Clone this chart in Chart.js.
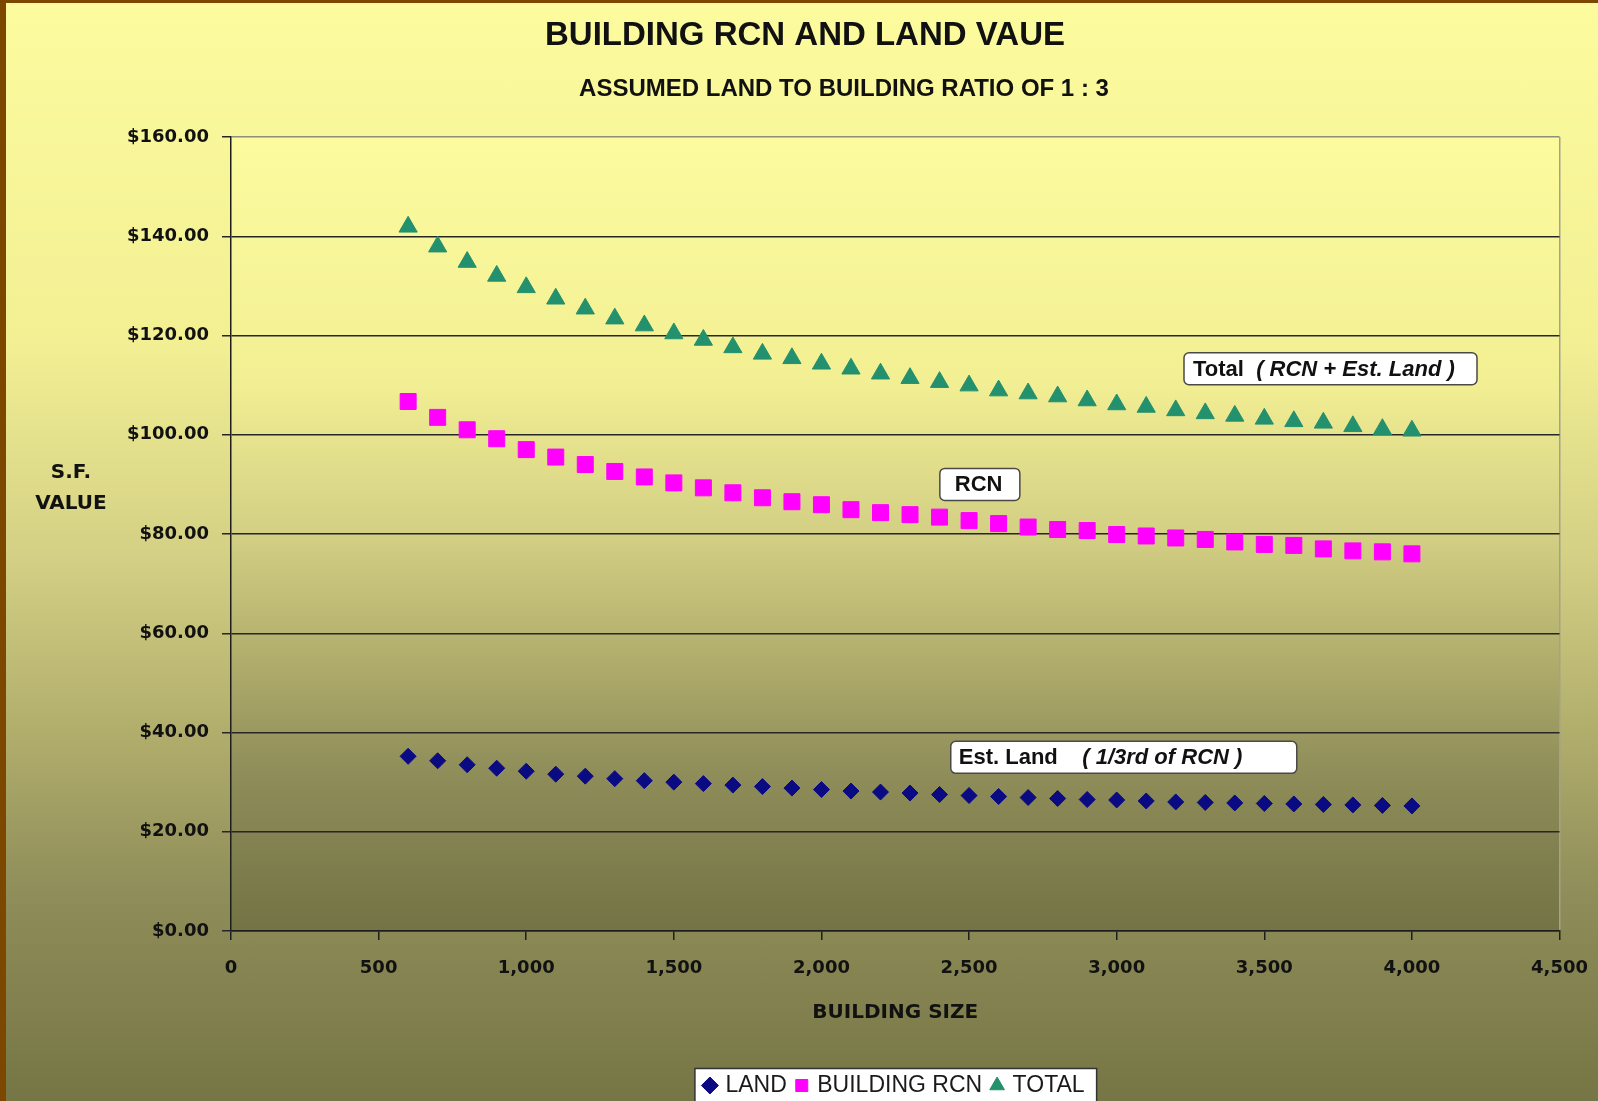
<!DOCTYPE html>
<html>
<head>
<meta charset="utf-8">
<title>Building RCN and Land Value</title>
<script src="https://cdn.jsdelivr.net/npm/chart.js@4.4.0/dist/chart.umd.min.js"></script>
<style>
	html, body { margin: 0; padding: 0; overflow: hidden; background: #7c4800; }
	#wrap {
		position: absolute; left: 6px; top: 3px; width: 1592px; height: 1113px;
		background: linear-gradient(to bottom, #fcfb9e 0%, #f3f094 30%, #d3cf84 50%, #b2af6d 65%, #8f8d59 80%, #747444 100%);
	}
	canvas { display: block; }
</style>
</head>
<body>
<div id="wrap"><canvas id="valueChart"></canvas></div>
<script>
// building size (sq ft) and the three per-s.f. values
var sizes = [600, 700, 800, 900, 1000, 1100, 1200, 1300, 1400, 1500, 1600, 1700,
	1800, 1900, 2000, 2100, 2200, 2300, 2400, 2500, 2600, 2700, 2800, 2900,
	3000, 3100, 3200, 3300, 3400, 3500, 3600, 3700, 3800, 3900, 4000];

var land = [35.2, 34.3, 33.5, 32.8, 32.2, 31.6, 31.2, 30.7, 30.3, 30.0, 29.7, 29.4,
	29.1, 28.8, 28.5, 28.2, 28.0, 27.8, 27.5, 27.3, 27.1, 26.9, 26.7, 26.5,
	26.4, 26.2, 26.0, 25.9, 25.8, 25.7, 25.6, 25.5, 25.4, 25.3, 25.2];

var rcn = [106.7, 103.5, 101.0, 99.2, 97.0, 95.5, 94.0, 92.6, 91.5, 90.3, 89.3, 88.3,
	87.3, 86.5, 85.9, 84.9, 84.3, 83.9, 83.4, 82.7, 82.1, 81.4, 80.9, 80.7,
	79.9, 79.6, 79.2, 78.9, 78.4, 77.9, 77.7, 77.0, 76.6, 76.4, 76.0];

var total = [141.9, 137.9, 134.8, 132.0, 129.7, 127.4, 125.4, 123.4, 122.0, 120.4, 119.1, 117.6,
	116.3, 115.4, 114.3, 113.3, 112.3, 111.4, 110.6, 109.9, 108.9, 108.3, 107.7, 106.9,
	106.1, 105.6, 104.9, 104.3, 103.8, 103.2, 102.7, 102.4, 101.7, 101.1, 100.8];

var seriesNames = ['LAND', 'BUILDING RCN', 'TOTAL'];

var chartTitle = 'BUILDING RCN AND LAND VAUE',
	chartSubtitle = 'ASSUMED LAND TO BUILDING RATIO OF 1 : 3',
	xTitle = 'BUILDING SIZE',
	yTitle = ['S.F.', 'VALUE'];

// callout boxes, anchored in data units (left edge x, vertical centre y)
var notes = [
	{ x: 3228, y: 113.3, w: 293, pad: 9, parts: [['Total', false], ['  ( RCN + Est. Land )', true]] },
	{ x: 2401, y: 90.0, w: 80, pad: 15, parts: [['RCN', false]] },
	{ x: 2438, y: 35.0, w: 346, pad: 8, parts: [['Est. Land', false], ['    ( 1/3rd of RCN )', true]] }
];

var fadeStops = [[0, '#fcfb9e'], [0.3, '#f3f094'], [0.5, '#d3cf84'], [0.65, '#b2af6d'], [0.8, '#8f8d59'], [1, '#737345']];

function points(ys) {
	return sizes.map((s, i) => ({ x: s, y: ys[i] }));
}

const backdrop = {
	id: 'backdrop',
	beforeDraw(chart) {
		const ctx = chart.ctx, a = chart.chartArea;
		ctx.save();
		const g = ctx.createLinearGradient(0, a.top, 0, a.bottom);
		fadeStops.forEach(s => g.addColorStop(s[0], s[1]));
		ctx.fillStyle = g;
		ctx.fillRect(a.left, a.top, a.right - a.left, a.bottom - a.top);

		// white frame behind the legend items
		const hb = chart.legend.legendHitBoxes;
		if (hb && hb.length) {
			const l = Math.min(...hb.map(b => b.left)) - 11;
			const r = Math.max(...hb.map(b => b.left + b.width)) + 12;
			const t = hb[0].top + hb[0].height / 2 - 17;
			ctx.fillStyle = '#ffffff';
			ctx.fillRect(l, t, r - l, 60);
			ctx.strokeStyle = '#333333';
			ctx.lineWidth = 1.5;
			ctx.strokeRect(l, t, r - l, 60);
		}
		ctx.restore();
	}
};

const headings = {
	id: 'headings',
	afterDraw(chart) {
		const ctx = chart.ctx;
		ctx.save();
		ctx.fillStyle = '#111111';
		ctx.textAlign = 'center';
		ctx.textBaseline = 'middle';
		ctx.font = 'bold 33px "Liberation Sans", Arial, sans-serif';
		ctx.fillText(chartTitle, 799, 33);
		ctx.font = 'bold 24px "Liberation Sans", Arial, sans-serif';
		ctx.fillText(chartSubtitle, 838, 86);
		ctx.font = 'bold 20px "DejaVu Sans", sans-serif';
		ctx.fillText(yTitle[0], 65, 470);
		ctx.fillText(yTitle[1], 65, 501);
		ctx.restore();
	},
	afterDatasetsDraw(chart) {
		const ctx = chart.ctx, xs = chart.scales.x, ys = chart.scales.y;
		ctx.save();
		notes.forEach(n => {
			const left = xs.getPixelForValue(n.x), mid = ys.getPixelForValue(n.y);
			const h = 32, top = mid - h / 2;
			ctx.beginPath();
			ctx.roundRect(left, top, n.w, h, 5);
			ctx.fillStyle = '#ffffff';
			ctx.fill();
			ctx.strokeStyle = '#4a4a44';
			ctx.lineWidth = 1.5;
			ctx.stroke();
			ctx.fillStyle = '#111111';
			ctx.textAlign = 'left';
			ctx.textBaseline = 'middle';
			let cx = left + n.pad;
			n.parts.forEach(p => {
				ctx.font = (p[1] ? 'italic ' : '') + 'bold 22px "Liberation Sans", Arial, sans-serif';
				ctx.fillText(p[0], cx, mid + 1);
				cx += ctx.measureText(p[0]).width;
			});
		});
		ctx.restore();
	}
};

const ctxValue = document.getElementById('valueChart').getContext('2d');
const valueChart = new Chart(ctxValue, {
	type: 'scatter',
	data: {
		datasets: [
			{
				label: seriesNames[0],
				data: points(land),
				pointStyle: 'rectRot',
				pointRadius: 8,
				backgroundColor: '#0a0a82',
				borderColor: '#0a0a82',
				borderWidth: 1
			},
			{
				label: seriesNames[1],
				data: points(rcn),
				pointStyle: 'rect',
				pointRadius: 11.3,
				backgroundColor: '#ff00ff',
				borderColor: '#ff00ff',
				borderWidth: 1
			},
			{
				label: seriesNames[2],
				data: points(total),
				pointStyle: 'triangle',
				pointRadius: 10.5,
				backgroundColor: '#23906e',
				borderColor: '#23906e',
				borderWidth: 1
			}
		]
	},
	options: {
		responsive: true,
		maintainAspectRatio: false,
		animation: false,
		layout: {
			padding: { top: 134, left: 0, right: 38, bottom: 9 }
		},
		plugins: {
			title: { display: false },
			tooltip: { enabled: false },
			legend: {
				display: true,
				position: 'bottom',
				fullSize: false,
				labels: {
					usePointStyle: true,
					boxWidth: 8,
					boxHeight: 12,
					padding: 11,
					color: '#1a1a1a',
					font: { family: '"Liberation Sans", Arial, sans-serif', size: 23 }
				}
			}
		},
		scales: {
			x: {
				type: 'linear',
				min: 0,
				max: 4500,
				afterFit: s => { s.height = 132; },
				ticks: {
					stepSize: 500,
					padding: 10,
					color: '#111111',
					font: { family: '"DejaVu Sans", sans-serif', size: 18, weight: 'bold', lineHeight: 2 },
					maxRotation: 0,
					callback: v => v.toLocaleString('en-US')
				},
				grid: {
					drawOnChartArea: true,
					color: c => (c.tick && c.tick.value === 4500) ? '#a3a28c' : 'rgba(0,0,0,0)',
					tickColor: '#1e1e1e',
					lineWidth: 1.5,
					tickLength: 9
				},
				border: { color: '#1e1e1e', width: 1.5 },
				title: {
					display: true,
					text: xTitle,
					color: '#111111',
					font: { family: '"DejaVu Sans", sans-serif', size: 20, weight: 'bold' },
					padding: { top: 0, bottom: 38 }
				}
			},
			y: {
				type: 'linear',
				min: 0,
				max: 160,
				afterFit: s => { s.width = 225; },
				ticks: {
					stepSize: 20,
					padding: 13,
					color: '#111111',
					font: { family: '"DejaVu Sans", sans-serif', size: 18, weight: 'bold' },
					callback: v => '$' + v.toFixed(2)
				},
				grid: {
					color: c => (c.tick && c.tick.value === 160) ? '#8f8e78' : '#262626',
					tickColor: '#262626',
					lineWidth: 1.5,
					tickLength: 9
				},
				border: { color: '#1e1e1e', width: 1.5 }
			}
		}
	},
	plugins: [backdrop, headings]
});
</script>
</body>
</html>
